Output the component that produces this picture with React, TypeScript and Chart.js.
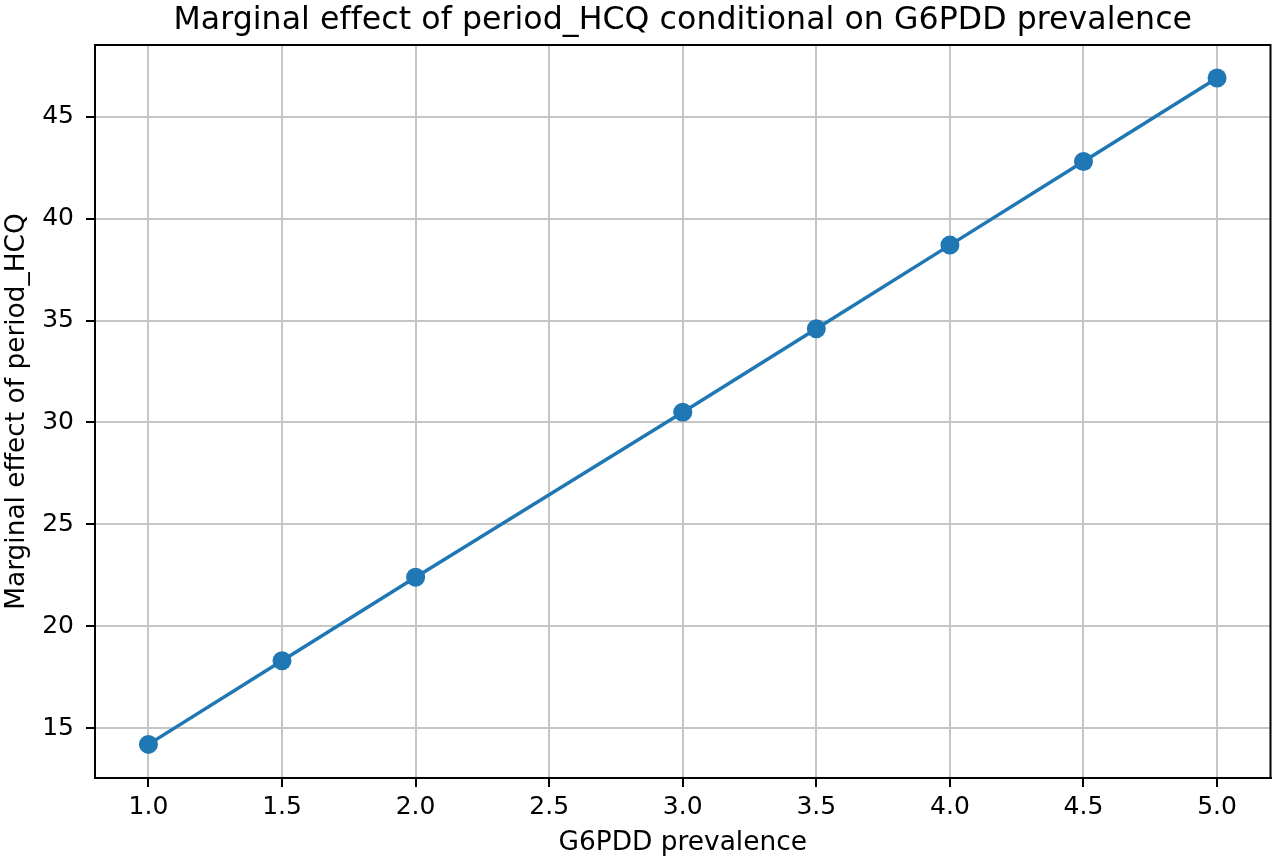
import React, { useEffect, useRef } from "react";
import { Chart, registerables } from "chart.js";

Chart.register(...registerables);

const xValues = [1.0, 1.5, 2.0, 3.0, 3.5, 4.0, 4.5, 5.0];
const marginalEffect = [14.2, 18.3, 22.4, 30.5, 34.6, 38.7, 42.8, 46.9];
const xTickValues = [1.0, 1.5, 2.0, 2.5, 3.0, 3.5, 4.0, 4.5, 5.0];
const yTickValues = [15, 20, 25, 30, 35, 40, 45];
const chartTitle = "Marginal effect of period_HCQ conditional on G6PDD prevalence";
const xLabel = "G6PDD prevalence";
const yLabel = "Marginal effect of period_HCQ";

const FONT = "'DejaVu Sans', sans-serif";
const LINE_COLOR = "#1f77b4";

const framePlugin = {
  id: "frameAndTitle",
  afterDatasetsDraw(chart: any) {
    const { ctx, chartArea } = chart;
    ctx.save();
    ctx.strokeStyle = "#000";
    ctx.lineWidth = 2;
    ctx.strokeRect(chartArea.left, chartArea.top, chartArea.right - chartArea.left, chartArea.bottom - chartArea.top);
    ctx.fillStyle = "#000";
    ctx.font = `31.6px ${FONT}`;
    try {
      (ctx as any).letterSpacing = "0.05px";
    } catch (e) {}
    ctx.textAlign = "center";
    ctx.textBaseline = "alphabetic";
    ctx.fillText(chartTitle, (chartArea.left + chartArea.right) / 2, 29);
    ctx.restore();
  },
};

export default function App() {
  const canvasRef = useRef<HTMLCanvasElement | null>(null);

  useEffect(() => {
    const canvas = canvasRef.current;
    if (!canvas) return;
    const points = xValues.map((x, i) => ({ x, y: marginalEffect[i] }));
    const chart = new Chart(canvas, {
      type: "line",
      data: {
        datasets: [
          {
            data: points,
            borderColor: LINE_COLOR,
            backgroundColor: LINE_COLOR,
            borderWidth: 3.5,
            pointRadius: 9.5,
            pointHoverRadius: 9.5,
            pointBackgroundColor: LINE_COLOR,
            pointBorderColor: LINE_COLOR,
            pointBorderWidth: 0,
            tension: 0,
            fill: false,
          },
        ],
      },
      options: {
        animation: false,
        responsive: false,
        devicePixelRatio: 1,
        layout: { padding: { top: 45, right: 7, left: 0, bottom: 0 } },
        plugins: {
          legend: { display: false },
          tooltip: { enabled: false },
          title: { display: false },
        },
        scales: {
          x: {
            type: "linear",
            min: 0.8,
            max: 5.2,
            afterBuildTicks: (scale: any) => {
              scale.ticks = xTickValues.map((v) => ({ value: v }));
            },
            afterFit: (scale: any) => {
              scale.height = 87;
            },
            grid: {
              color: "#c6c6c6",
              lineWidth: 2,
              tickColor: "#000",
              tickLength: 9,
              tickWidth: 2,
            },
            border: { display: true, color: "#000", width: 2 },
            ticks: {
              color: "#000",
              font: { family: FONT, size: 25 },
              padding: 5,
              maxRotation: 0,
              autoSkip: false,
              callback: (v: any) => Number(v).toFixed(1),
            },
            title: {
              display: true,
              text: xLabel,
              color: "#000",
              font: { family: FONT, size: 26.4 },
              padding: { top: 0, bottom: 6 },
            },
          },
          y: {
            type: "linear",
            min: 12.55,
            max: 48.52,
            afterBuildTicks: (scale: any) => {
              scale.ticks = yTickValues.map((v) => ({ value: v }));
            },
            afterFit: (scale: any) => {
              scale.width = 95;
            },
            grid: {
              color: "#c6c6c6",
              lineWidth: 2,
              tickColor: "#000",
              tickLength: 9,
              tickWidth: 2,
            },
            border: { display: true, color: "#000", width: 2 },
            ticks: {
              color: "#000",
              font: { family: FONT, size: 25 },
              padding: 12,
              autoSkip: false,
              callback: (v: any) => String(Math.round(Number(v))),
            },
            title: {
              display: true,
              text: yLabel,
              color: "#000",
              font: { family: FONT, size: 26.4 },
              padding: { top: 1, bottom: 0 },
            },
          },
        },
      },
      plugins: [framePlugin],
    });
    return () => chart.destroy();
  }, []);

  return (
    <div style={{ position: "fixed", left: 0, top: 0, width: 1280, height: 865, background: "#fff" }}>
      <canvas
        ref={canvasRef}
        width={1280}
        height={865}
        style={{ width: 1280, height: 865, display: "block", fontVariantLigatures: "none" }}
      />
    </div>
  );
}
